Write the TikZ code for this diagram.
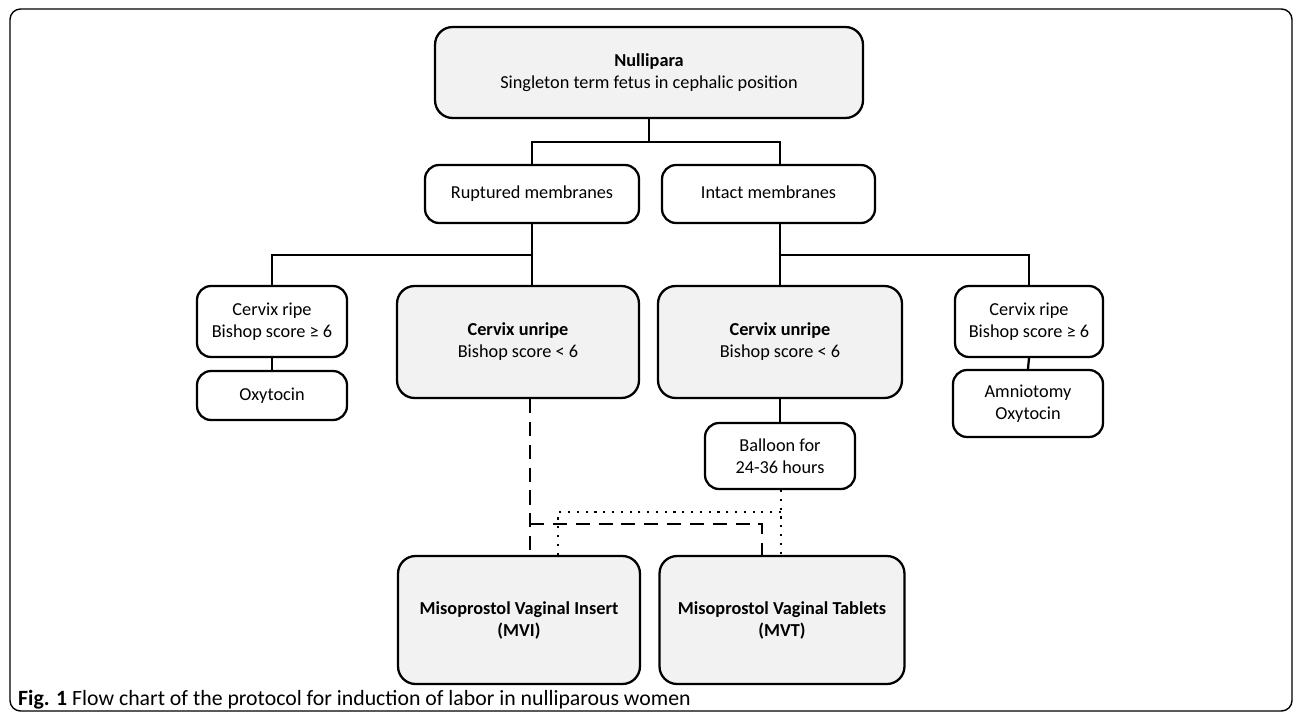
\documentclass[tikz,border=0pt]{standalone}
\usepackage{fontspec}
\setmainfont{Carlito}
\definecolor{boxgrey}{HTML}{F2F2F2}

\begin{document}
\begin{tikzpicture}[x=0.02cm,y=-0.02cm,line width=1.3pt,
	box/.style={draw,rounded corners=8pt,align=center,inner sep=0pt,
		font=\fontsize{10.4}{12.5}\selectfont},
	whitebox/.style={box,fill=white},
	greybox/.style={box,fill=boxgrey,rounded corners=10pt},
	dashline/.style={dash pattern=on 8pt off 5pt},
	dotline/.style={line width=1.2pt,dash pattern=on 1.2pt off 3.8pt}]
	\useasboundingbox (0,0) rectangle (1296,714);
	\draw[line width=0.8pt,rounded corners=6pt] (10,9) rectangle (1292,711);

	% top level
	\node[greybox,minimum width=8.56cm,minimum height=1.82cm] (null) at (649,72.5)
		{\textbf{Nullipara}\\Singleton term fetus in cephalic position};
	\node[whitebox,minimum width=4.28cm,minimum height=1.16cm] (rupt) at (532,194) {Ruptured membranes\strut};
	\node[whitebox,minimum width=4.26cm,minimum height=1.16cm] (intact) at (768.5,194) {Intact membranes\strut};

	% cervix
	\node[whitebox,minimum width=3cm,minimum height=1.42cm] (ripeL) at (272,321.5) {Cervix ripe\\Bishop score ≥ 6};
	\node[whitebox,minimum width=3cm,minimum height=0.98cm] (oxyL) at (272,395.5) {Oxytocin};
	\node[greybox,minimum width=4.84cm,minimum height=2.24cm] (unripeL) at (518,342)
		{\textbf{Cervix unripe}\\Bishop score < 6};
	\node[greybox,minimum width=4.88cm,minimum height=2.24cm] (unripeR) at (780,342)
		{\textbf{Cervix unripe}\\Bishop score < 6};
	\node[whitebox,minimum width=2.96cm,minimum height=1.42cm] (ripeR) at (1029,321.5) {Cervix ripe\\Bishop score ≥ 6};
	\node[whitebox,minimum width=3cm,minimum height=1.34cm] (amnio) at (1028,403.5) {Amniotomy\\Oxytocin};
	\node[whitebox,minimum width=3cm,minimum height=1.32cm] (balloon) at (780,456) {Balloon for\\24-36 hours};

	% misoprostol
	\node[greybox,minimum width=4.84cm,minimum height=2.56cm] (mvi) at (519,620)
		{\textbf{Misoprostol Vaginal Insert}\\\textbf{(MVI)}};
	\node[greybox,minimum width=4.9cm,minimum height=2.56cm] (mvt) at (782,620)
		{\textbf{Misoprostol Vaginal Tablets}\\\textbf{(MVT)}};

	\node[anchor=west,inner sep=0pt,font=\fontsize{12.4}{14}\selectfont] (caption) at (17,700)
		{\textbf{Fig. 1} Flow chart of the protocol for induction of labor in nulliparous women};

	% solid tree
	\coordinate (j1) at (649,142);
	\coordinate (j2) at (532,255);
	\draw (null.south) -- (j1);
	\draw (rupt.north) |- (j1) -| (intact.north -| unripeR.north);
	\draw (rupt.south) -- (rupt.south |- unripeL.north);
	\draw (j2) -| (ripeL.north);
	\draw (intact.south -| unripeR.north) -- (unripeR.north);
	\draw (unripeR.north |- j2) -| (ripeR.north);
	\draw (ripeL.south) -- (oxyL.north);
	\draw (ripeR.south) -- (amnio.north);
	\draw (unripeR.south) -- (balloon.north);

	% dashed: MVI or MVT after ruptured membranes
	\coordinate (d1) at (530,524);
	\coordinate (d2) at (762,524);
	\draw[dashline] (unripeL.south -| d1) -- (mvi.north -| d1);
	\draw[dashline] (d1) -- (d2) -- (mvt.north -| d2);

	% dotted: MVI or MVT after balloon
	\coordinate (p1) at (781,512);
	\coordinate (p2) at (558,512);
	\draw[dotline] (balloon.south -| p1) -- (mvt.north -| p1);
	\draw[dotline] (p1) -- (p2) -- (mvi.north -| p2);
\end{tikzpicture}
\end{document}
